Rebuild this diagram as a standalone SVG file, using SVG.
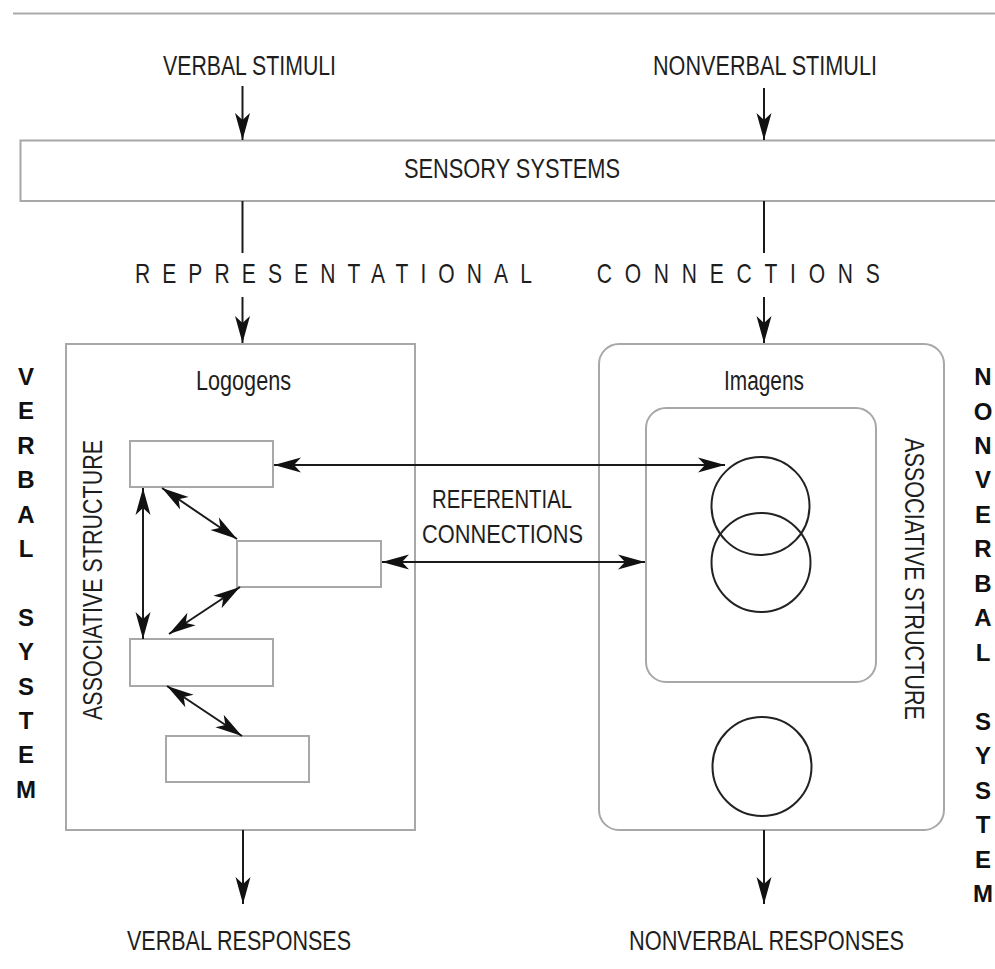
<svg xmlns="http://www.w3.org/2000/svg" width="995" height="969" viewBox="0 0 995 969">
<defs>
<style>
.lbl{font-family:"Liberation Sans",Arial,sans-serif;font-size:27px;fill:#1e1e1e}
.bold{font-family:"Liberation Sans",Arial,sans-serif;font-size:24px;font-weight:bold;fill:#111;text-anchor:middle}
.box{fill:#fff;stroke:#a8a8a8;stroke-width:2}
.ln{stroke:#1a1a1a;stroke-width:2;fill:none}
.arr{stroke:#1a1a1a;stroke-width:2;fill:none;marker-end:url(#ah)}
.dbl{stroke:#1a1a1a;stroke-width:2;fill:none;marker-start:url(#ah);marker-end:url(#ah)}
.circ{fill:none;stroke:#222;stroke-width:2}
</style>
<marker id="ah" markerUnits="userSpaceOnUse" markerWidth="32" markerHeight="20" viewBox="-29 -10 32 20" refX="0" refY="0" orient="auto-start-reverse">
<path d="M0,0 L-27,-7.5 L-20,0 L-27,7.5 Z" fill="#111"/>
</marker>
</defs>
<rect width="995" height="969" fill="#fff"/>
<line x1="13" y1="13.5" x2="995" y2="13.5" stroke="#aaa" stroke-width="2"/>

<g id="verbal-stimuli"><text class="lbl" x="163" y="75" textLength="173" lengthAdjust="spacingAndGlyphs">VERBAL STIMULI</text></g>
<g id="nonverbal-stimuli"><text class="lbl" x="653" y="75" textLength="224" lengthAdjust="spacingAndGlyphs">NONVERBAL STIMULI</text></g>

<g id="sensory-systems">
<rect class="box" x="20.5" y="140.5" width="1000" height="60.5"/>
<text class="lbl" x="404" y="178" textLength="216" lengthAdjust="spacingAndGlyphs">SENSORY SYSTEMS</text>
</g>

<g id="representational-connections">
<text class="lbl" transform="scale(0.78,1)" x="173" y="283" textLength="509" lengthAdjust="spacing">REPRESENTATIONAL</text>
<text class="lbl" transform="scale(0.78,1)" x="765" y="283" textLength="363" lengthAdjust="spacing">CONNECTIONS</text>
</g>

<g id="verbal-system">
<rect class="box" x="66" y="344" width="349" height="486"/>
<text class="lbl" x="196" y="390" textLength="95" lengthAdjust="spacingAndGlyphs">Logogens</text>
<text class="lbl" transform="translate(102,720) rotate(-90)" x="0" y="0" textLength="280" lengthAdjust="spacingAndGlyphs">ASSOCIATIVE STRUCTURE</text>
</g>
<g id="logogen-1"><rect class="box" x="130" y="441" width="143" height="46"/></g>
<g id="logogen-2"><rect class="box" x="237" y="541" width="144" height="46"/></g>
<g id="logogen-3"><rect class="box" x="130" y="639" width="143" height="47"/></g>
<g id="logogen-4"><rect class="box" x="166" y="736" width="143" height="46"/></g>

<g id="nonverbal-system">
<rect class="box" x="599" y="344" width="345" height="486" rx="20" ry="20"/>
<text class="lbl" x="724" y="390" textLength="80" lengthAdjust="spacingAndGlyphs">Imagens</text>
<text class="lbl" transform="translate(905,438) rotate(90)" x="0" y="0" textLength="282" lengthAdjust="spacingAndGlyphs">ASSOCIATIVE STRUCTURE</text>
</g>
<g id="imagen-group"><rect class="box" x="646" y="408" width="230" height="274" rx="20" ry="20"/></g>
<g id="imagen-1"><circle class="circ" cx="760.5" cy="506" r="49"/></g>
<g id="imagen-2"><circle class="circ" cx="761" cy="562.5" r="49.5"/></g>
<g id="imagen-3"><circle class="circ" cx="762" cy="766.5" r="49.5"/></g>

<g id="referential-label">
<text class="lbl" style="font-size:26px" x="432" y="508" textLength="140" lengthAdjust="spacingAndGlyphs">REFERENTIAL</text>
<text class="lbl" style="font-size:26px" x="422" y="543" textLength="161" lengthAdjust="spacingAndGlyphs">CONNECTIONS</text>
</g>

<g id="verbal-responses"><text class="lbl" x="127" y="950" textLength="224" lengthAdjust="spacingAndGlyphs">VERBAL RESPONSES</text></g>
<g id="nonverbal-responses"><text class="lbl" x="629" y="950" textLength="275" lengthAdjust="spacingAndGlyphs">NONVERBAL RESPONSES</text></g>

<g id="verbal-system-label">
<text class="bold" x="26" y="385">V</text>
<text class="bold" x="26" y="419.4">E</text>
<text class="bold" x="26" y="453.8">R</text>
<text class="bold" x="26" y="488.2">B</text>
<text class="bold" x="26" y="522.6">A</text>
<text class="bold" x="26" y="557">L</text>
<text class="bold" x="26" y="625.8">S</text>
<text class="bold" x="26" y="660.2">Y</text>
<text class="bold" x="26" y="694.6">S</text>
<text class="bold" x="26" y="729">T</text>
<text class="bold" x="26" y="763.4">E</text>
<text class="bold" x="26" y="797.8">M</text>
</g>
<g id="nonverbal-system-label">
<text class="bold" x="983" y="385">N</text>
<text class="bold" x="983" y="419.5">O</text>
<text class="bold" x="983" y="453.9">N</text>
<text class="bold" x="983" y="488.4">V</text>
<text class="bold" x="983" y="522.9">E</text>
<text class="bold" x="983" y="557.4">R</text>
<text class="bold" x="983" y="591.8">B</text>
<text class="bold" x="983" y="626.3">A</text>
<text class="bold" x="983" y="660.8">L</text>
<text class="bold" x="983" y="729.7">S</text>
<text class="bold" x="983" y="764.1">Y</text>
<text class="bold" x="983" y="798.6">S</text>
<text class="bold" x="983" y="833.1">T</text>
<text class="bold" x="983" y="867.6">E</text>
<text class="bold" x="983" y="902">M</text>
</g>

<g id="connectors">
<line class="arr" x1="242.5" y1="86" x2="242.5" y2="140"/>
<line class="arr" x1="764" y1="88" x2="764" y2="140"/>
<line class="ln" x1="242.5" y1="201" x2="242.5" y2="253"/>
<line class="ln" x1="764" y1="201" x2="764" y2="253"/>
<line class="arr" x1="242.5" y1="297" x2="242.5" y2="343"/>
<line class="arr" x1="764" y1="297" x2="764" y2="343"/>
<line class="arr" x1="243" y1="830" x2="243" y2="904"/>
<line class="arr" x1="764" y1="830" x2="764" y2="904"/>
<line class="dbl" x1="274" y1="465" x2="725" y2="465"/>
<line class="dbl" x1="382" y1="562" x2="645" y2="562"/>
<line class="dbl" x1="143" y1="488" x2="143" y2="639"/>
<line class="dbl" x1="162" y1="488" x2="237" y2="539"/>
<line class="dbl" x1="240" y1="587" x2="169" y2="634"/>
<line class="dbl" x1="167" y1="686" x2="242" y2="736"/>
</g>
</svg>
